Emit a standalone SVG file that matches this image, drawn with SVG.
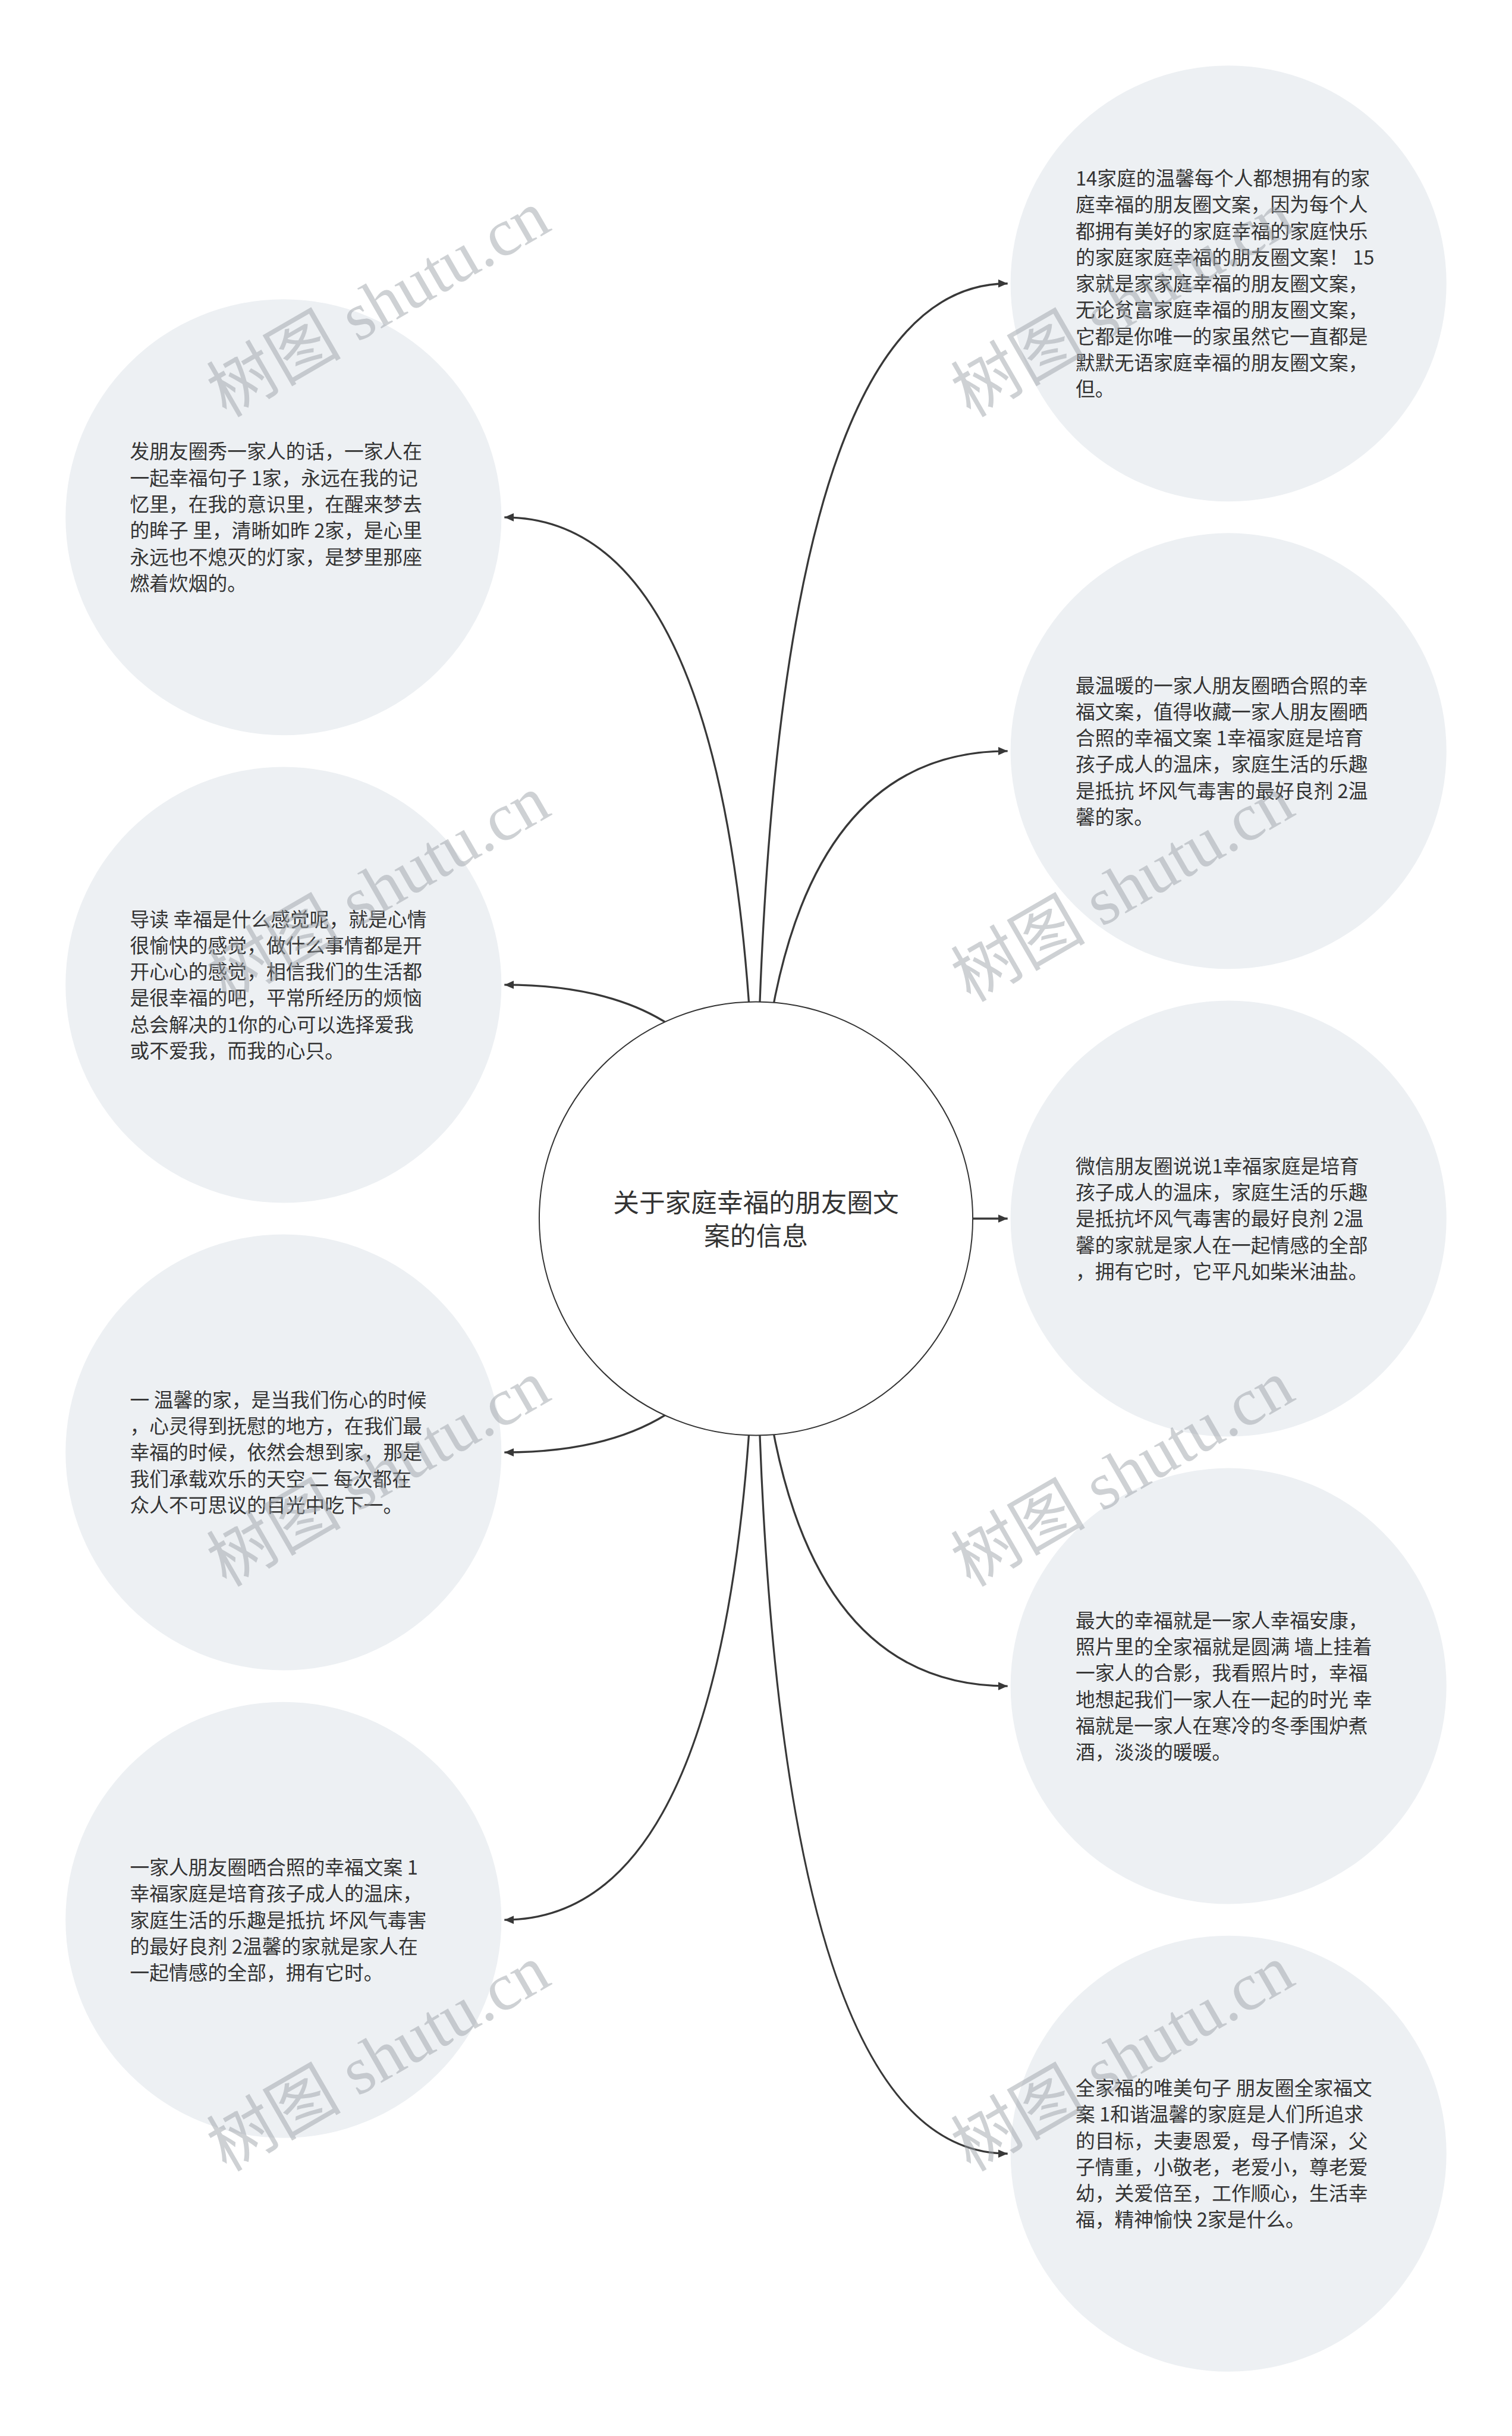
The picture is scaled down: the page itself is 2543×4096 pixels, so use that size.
<svg xmlns="http://www.w3.org/2000/svg" width="2543" height="4096" viewBox="0 0 2543 4096">
<defs>
<style>
.bg{fill:#ffffff}
.node{fill:#edf0f3}
.center{fill:#ffffff;stroke:#333333;stroke-width:2}
.conn{fill:none;stroke:#383838;stroke-width:3.3}
.t{font-family:"Noto Sans CJK SC","Liberation Sans",sans-serif;font-size:33px;fill:#333333}
.ct{font-family:"Noto Sans CJK SC","Liberation Sans",sans-serif;font-size:44px;fill:#333333;text-anchor:middle}
.wm{font-family:"Liberation Serif","Noto Sans CJK SC",serif;font-size:114px;fill:#9aa0a6;opacity:0.48;text-anchor:middle}
</style>
<marker id="arr" markerWidth="16" markerHeight="14" refX="16" refY="7" orient="auto" markerUnits="userSpaceOnUse">
<path d="M0,0 L16,7 L0,14 Z" fill="#383838"/>
</marker>
</defs>
<rect class="bg" x="0" y="0" width="2543" height="4096"/>
<g transform="scale(0.99336,0.99321)">
<g id="connectors">
<path class="conn" marker-end="url(#arr)" d="M1280,2063 Q1280,480 1706,480"/>
<path class="conn" marker-end="url(#arr)" d="M1280,2063 Q1280,1271.5 1706,1271.5"/>
<path class="conn" marker-end="url(#arr)" d="M1280,2063 L1706,2063"/>
<path class="conn" marker-end="url(#arr)" d="M1280,2063 Q1280,2854.5 1706,2854.5"/>
<path class="conn" marker-end="url(#arr)" d="M1280,2063 Q1280,3646 1706,3646"/>
<path class="conn" marker-end="url(#arr)" d="M1280,2063 Q1280,875.75 854,875.75"/>
<path class="conn" marker-end="url(#arr)" d="M1280,2063 Q1280,1667.25 854,1667.25"/>
<path class="conn" marker-end="url(#arr)" d="M1280,2063 Q1280,2458.75 854,2458.75"/>
<path class="conn" marker-end="url(#arr)" d="M1280,2063 Q1280,3250.25 854,3250.25"/>
</g>
<g id="node-center">
<circle class="center" cx="1280" cy="2063" r="367"/>
<text class="ct" x="1280" y="2051.7">关于家庭幸福的朋友圈文<tspan x="1280" dy="57">案的信息</tspan></text>
</g>
<g id="node-r1">
<circle class="node" cx="2080" cy="480" r="369"/>
<text class="t" x="1821" y="314.1">14家庭的温馨每个人都想拥有的家<tspan x="1821" dy="44.6">庭幸福的朋友圈文案，因为每个人</tspan><tspan x="1821" dy="44.6">都拥有美好的家庭幸福的家庭快乐</tspan><tspan x="1821" dy="44.6">的家庭家庭幸福的朋友圈文案！ 15</tspan><tspan x="1821" dy="44.6">家就是家家庭幸福的朋友圈文案，</tspan><tspan x="1821" dy="44.6">无论贫富家庭幸福的朋友圈文案，</tspan><tspan x="1821" dy="44.6">它都是你唯一的家虽然它一直都是</tspan><tspan x="1821" dy="44.6">默默无语家庭幸福的朋友圈文案，</tspan><tspan x="1821" dy="44.6">但。</tspan></text>
</g>
<g id="node-r2">
<circle class="node" cx="2080" cy="1271.5" r="369"/>
<text class="t" x="1821" y="1172.5">最温暖的一家人朋友圈晒合照的幸<tspan x="1821" dy="44.6">福文案，值得收藏一家人朋友圈晒</tspan><tspan x="1821" dy="44.6">合照的幸福文案 1幸福家庭是培育</tspan><tspan x="1821" dy="44.6">孩子成人的温床，家庭生活的乐趣</tspan><tspan x="1821" dy="44.6">是抵抗 坏风气毒害的最好良剂 2温</tspan><tspan x="1821" dy="44.6">馨的家。</tspan></text>
</g>
<g id="node-r3">
<circle class="node" cx="2080" cy="2063" r="369"/>
<text class="t" x="1821" y="1986.3">微信朋友圈说说1幸福家庭是培育<tspan x="1821" dy="44.6">孩子成人的温床，家庭生活的乐趣</tspan><tspan x="1821" dy="44.6">是抵抗坏风气毒害的最好良剂 2温</tspan><tspan x="1821" dy="44.6">馨的家就是家人在一起情感的全部</tspan><tspan x="1821" dy="44.6">，拥有它时，它平凡如柴米油盐。</tspan></text>
</g>
<g id="node-r4">
<circle class="node" cx="2080" cy="2854.5" r="369"/>
<text class="t" x="1821" y="2755.5">最大的幸福就是一家人幸福安康，<tspan x="1821" dy="44.6">照片里的全家福就是圆满 墙上挂着</tspan><tspan x="1821" dy="44.6">一家人的合影，我看照片时，幸福</tspan><tspan x="1821" dy="44.6">地想起我们一家人在一起的时光 幸</tspan><tspan x="1821" dy="44.6">福就是一家人在寒冷的冬季围炉煮</tspan><tspan x="1821" dy="44.6">酒，淡淡的暖暖。</tspan></text>
</g>
<g id="node-r5">
<circle class="node" cx="2080" cy="3646" r="369"/>
<text class="t" x="1821" y="3547">全家福的唯美句子 朋友圈全家福文<tspan x="1821" dy="44.6">案 1和谐温馨的家庭是人们所追求</tspan><tspan x="1821" dy="44.6">的目标，夫妻恩爱，母子情深，父</tspan><tspan x="1821" dy="44.6">子情重，小敬老，老爱小，尊老爱</tspan><tspan x="1821" dy="44.6">幼，关爱倍至，工作顺心，生活幸</tspan><tspan x="1821" dy="44.6">福，精神愉快 2家是什么。</tspan></text>
</g>
<g id="node-l1">
<circle class="node" cx="480" cy="875.75" r="369"/>
<text class="t" x="220" y="776.75">发朋友圈秀一家人的话，一家人在<tspan x="220" dy="44.6">一起幸福句子 1家，永远在我的记</tspan><tspan x="220" dy="44.6">忆里，在我的意识里，在醒来梦去</tspan><tspan x="220" dy="44.6">的眸子 里，清晰如昨 2家，是心里</tspan><tspan x="220" dy="44.6">永远也不熄灭的灯家，是梦里那座</tspan><tspan x="220" dy="44.6">燃着炊烟的。</tspan></text>
</g>
<g id="node-l2">
<circle class="node" cx="480" cy="1667.25" r="369"/>
<text class="t" x="220" y="1568.25">导读 幸福是什么感觉呢，就是心情<tspan x="220" dy="44.6">很愉快的感觉，做什么事情都是开</tspan><tspan x="220" dy="44.6">开心心的感觉，相信我们的生活都</tspan><tspan x="220" dy="44.6">是很幸福的吧，平常所经历的烦恼</tspan><tspan x="220" dy="44.6">总会解决的1你的心可以选择爱我</tspan><tspan x="220" dy="44.6">或不爱我，而我的心只。</tspan></text>
</g>
<g id="node-l3">
<circle class="node" cx="480" cy="2458.75" r="369"/>
<text class="t" x="220" y="2382.05">一 温馨的家，是当我们伤心的时候<tspan x="220" dy="44.6">，心灵得到抚慰的地方，在我们最</tspan><tspan x="220" dy="44.6">幸福的时候，依然会想到家，那是</tspan><tspan x="220" dy="44.6">我们承载欢乐的天空 二 每次都在</tspan><tspan x="220" dy="44.6">众人不可思议的目光中吃下一。</tspan></text>
</g>
<g id="node-l4">
<circle class="node" cx="480" cy="3250.25" r="369"/>
<text class="t" x="220" y="3173.55">一家人朋友圈晒合照的幸福文案 1<tspan x="220" dy="44.6">幸福家庭是培育孩子成人的温床，</tspan><tspan x="220" dy="44.6">家庭生活的乐趣是抵抗 坏风气毒害</tspan><tspan x="220" dy="44.6">的最好良剂 2温馨的家就是家人在</tspan><tspan x="220" dy="44.6">一起情感的全部，拥有它时。</tspan></text>
</g>
<g id="watermarks">
<text class="wm" transform="translate(641,515) rotate(-30)" x="0" y="38">树图 shutu.cn</text>
<text class="wm" transform="translate(1901,515) rotate(-30)" x="0" y="38">树图 shutu.cn</text>
<text class="wm" transform="translate(641,1505) rotate(-30)" x="0" y="38">树图 shutu.cn</text>
<text class="wm" transform="translate(1901,1505) rotate(-30)" x="0" y="38">树图 shutu.cn</text>
<text class="wm" transform="translate(641,2495) rotate(-30)" x="0" y="38">树图 shutu.cn</text>
<text class="wm" transform="translate(1901,2495) rotate(-30)" x="0" y="38">树图 shutu.cn</text>
<text class="wm" transform="translate(641,3485) rotate(-30)" x="0" y="38">树图 shutu.cn</text>
<text class="wm" transform="translate(1901,3485) rotate(-30)" x="0" y="38">树图 shutu.cn</text>
</g>
</g>
</svg>
